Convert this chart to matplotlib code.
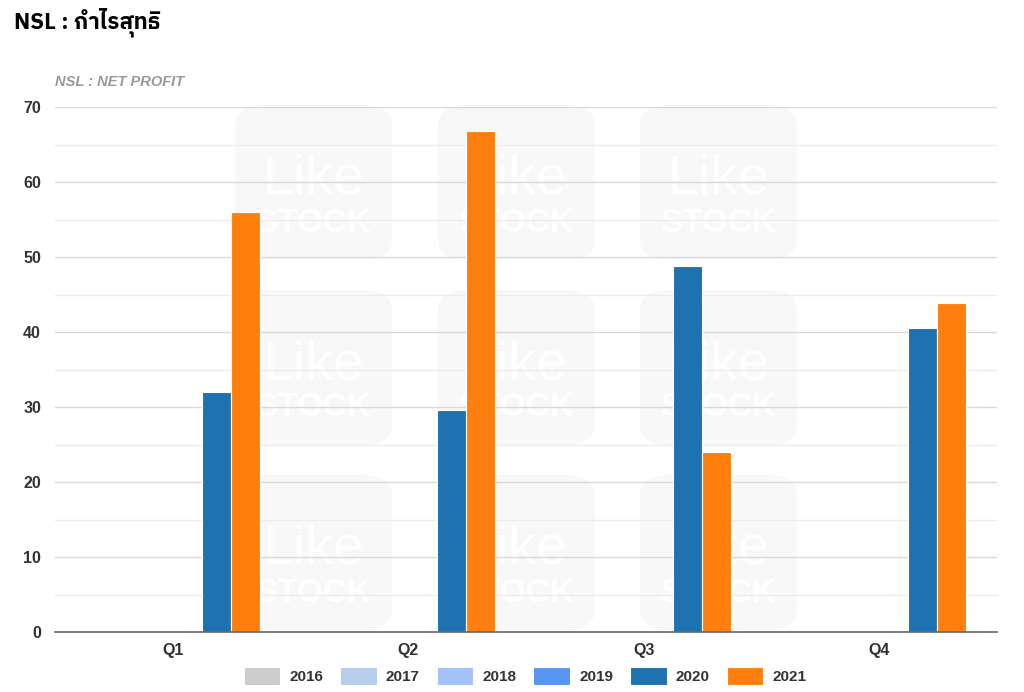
import matplotlib
matplotlib.use("Agg")
import matplotlib.pyplot as plt
from matplotlib import font_manager
from matplotlib.ft2font import FT2Font
from matplotlib.patches import FancyBboxPatch
import numpy as np

# data
quarters = ["Q1", "Q2", "Q3", "Q4"]
years = ["2016", "2017", "2018", "2019", "2020", "2021"]
colors = ["#cccccc", "#b7cdea", "#a1c3f7", "#5895f2", "#1f72b0", "#ff7f0e"]
values = {
    "2016": [0, 0, 0, 0],
    "2017": [0, 0, 0, 0],
    "2018": [0, 0, 0, 0],
    "2019": [0, 0, 0, 0],
    "2020": [32.0, 29.6, 48.8, 40.5],
    "2021": [56.0, 66.8, 24.0, 43.9],
}


# find a font that can draw Thai
def find_thai_font():
    for f in font_manager.fontManager.ttflist:
        if "Thai" in f.name:
            return f.name
    for f in font_manager.fontManager.ttflist:
        try:
            if ord("ก") in FT2Font(f.fname).get_charmap():
                return f.name
        except Exception:
            pass
    return None


thai = find_thai_font()
title_fam = [thai, "DejaVu Sans"] if thai else ["DejaVu Sans"]

plt.rcParams["font.family"] = ["Liberation Sans", "DejaVu Sans"]

fig = plt.figure(figsize=(10.24, 6.92), dpi=100)

# faint watermark boxes (behind the axes)
for cx in [235, 438, 640]:
    for cy in [105, 290, 475]:
        box = FancyBboxPatch((cx / 1024, 1 - (cy + 155) / 692), 157 / 1024, 155 / 692,
                             boxstyle="round,pad=0,rounding_size=0.03",
                             transform=fig.transFigure, facecolor="#f8f8f8",
                             edgecolor="none", zorder=0)
        fig.patches.append(box)
        fig.text((cx + 78) / 1024, 1 - (cy + 75) / 692, "Like", color="white",
                 fontsize=40, ha="center", va="center", zorder=0.5)
        fig.text((cx + 78) / 1024, 1 - (cy + 118) / 692, "STOCK", color="white",
                 fontsize=24, fontweight="bold", ha="center", va="center", zorder=0.5)

ax = fig.add_axes([55 / 1024, 60 / 692, 942 / 1024, 525 / 692])
ax.set_facecolor("none")
ax.set_zorder(2)

x = np.arange(len(quarters))
n = len(years)
group = 0.74
w = group / n
for i, yr in enumerate(years):
    ax.bar(x - group / 2 + w * (i + 0.5), values[yr], width=w, color=colors[i],
           edgecolor="white", linewidth=0.8, label=yr, zorder=3)

ax.set_xlim(-0.5, 3.5)
ax.set_ylim(0, 70)
ax.set_yticks(range(0, 71, 10))
ax.set_yticks(range(5, 70, 10), minor=True)
ax.grid(axis="y", which="major", color="#d9d9d9", linewidth=1, zorder=1)
ax.grid(axis="y", which="minor", color="#ededed", linewidth=1, zorder=1)
ax.set_xticks(x)
ax.set_xticklabels(quarters)
for s in ["top", "right", "left"]:
    ax.spines[s].set_visible(False)
ax.spines["bottom"].set_color("#666666")
ax.spines["bottom"].set_linewidth(1.2)
ax.spines["bottom"].set_zorder(4)
ax.tick_params(axis="both", which="both", length=0, labelsize=11.5, colors="#333333")
ax.tick_params(axis="y", pad=10)
ax.tick_params(axis="x", pad=8)
for lab in ax.get_xticklabels() + ax.get_yticklabels():
    lab.set_fontweight("bold")

fig.text(14 / 1024, 1 - 22 / 692, "NSL : กำไรสุทธิ", family=title_fam, fontsize=16,
         fontweight="bold", color="black", va="center", ha="left")
fig.text(55 / 1024, 1 - 82 / 692, "NSL : NET PROFIT", fontsize=10.5, fontweight="bold",
         style="italic", color="#999999", va="center", ha="left")

leg = fig.legend(loc="center", bbox_to_anchor=(525 / 1024, 1 - 676 / 692), ncol=6,
                 frameon=False, handlelength=2.4, handleheight=1.4, columnspacing=1.1,
                 handletextpad=0.6, prop={"weight": "bold", "size": 11})
for t in leg.get_texts():
    t.set_color("#333333")

fig.savefig("out.png", dpi=100, facecolor="white")
